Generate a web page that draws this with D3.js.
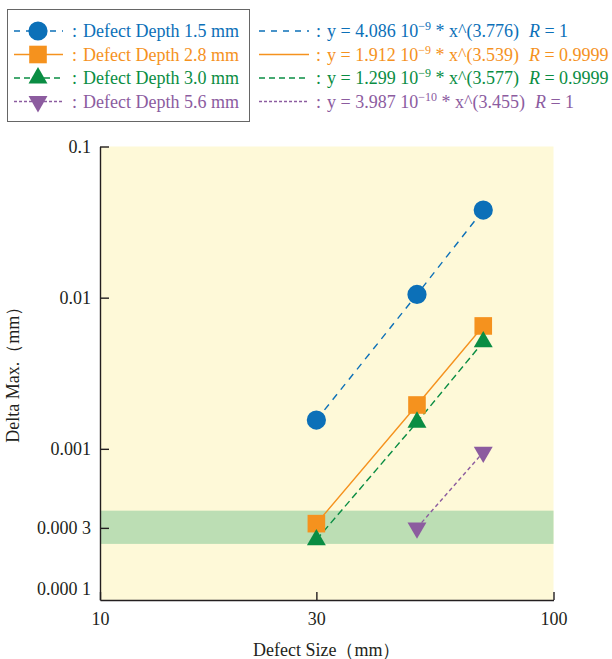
<!DOCTYPE html>
<html>
<head>
<meta charset="utf-8">
<script src="https://cdn.jsdelivr.net/npm/d3@7"></script>
<style>
  body { margin: 0; background: #fff; }
  text { font-family: "Liberation Serif", "DejaVu Serif", serif; }
</style>
</head>
<body>
<div id="chart"></div>
<script>
var width = 612,
    height = 659;

var margin = {left: 100, right: 58.5, top: 146.5, bottom: 59};

// data
var sizes = [30, 50, 70];
var depths = ["1.5", "2.8", "3.0", "5.6"];
var depth15 = [0.00155, 0.0105, 0.038];
var depth28 = [0.00032, 0.00195, 0.0065];
var depth30 = [0.00025, 0.0015, 0.0051];
var depth56 = [null, 0.0003, 0.00095];
var coefs = ["4.086", "1.912", "1.299", "3.987"];
var coefExp = ["\u22129", "\u22129", "\u22129", "\u221210"];
var powers = ["3.776", "3.539", "3.577", "3.455"];
var rValues = ["1", "0.9999", "0.9999", "1"];
var bandRange = [0.000235, 0.00039];
var xTicks = [10, 30, 100];
var yTicks = [0.1, 0.01, 0.001, 0.0003, 0.0001];
var yTickLabels = ["0.1", "0.01", "0.001", "0.000 3", "0.000 1"];

var colors = ["#0c70b8", "#f5921e", "#0a8d43", "#8c5c9f"];
var dashes = ["7,6", null, "7,4", "4,3"];
var legendDashes = ["6,6", null, "6,4", "3,2"];
var symbols = [d3.symbolCircle, d3.symbolSquare, d3.symbolTriangle, d3.symbolTriangle];
var symSizes = [290, 310, 155, 155];
var rotations = [0, 0, 0, 180];

var series = [depth15, depth28, depth30, depth56].map(function (vals, i) {
    return {
        name: depths[i],
        points: sizes.map(function (s, j) { return {x: s, y: vals[j]}; })
            .filter(function (p) { return p.y != null; })
    };
});

var x = d3.scaleLog().domain([10, 100]).range([margin.left, width - margin.right]);
var y = d3.scaleLog().domain([0.0001, 0.1]).range([height - margin.bottom, margin.top]);

var svg = d3.select("#chart").append("svg")
    .attr("width", width)
    .attr("height", height);

// plot background and band
svg.append("rect")
    .attr("x", x(10)).attr("y", y(0.1))
    .attr("width", x(100) - x(10)).attr("height", y(0.0001) - y(0.1))
    .style("fill", "#fef9d8");

svg.append("rect")
    .attr("x", x(10)).attr("y", y(bandRange[1]))
    .attr("width", x(100) - x(10)).attr("height", y(bandRange[0]) - y(bandRange[1]))
    .style("fill", "#bcdeb4");

// axes
var yAxis = svg.append("g")
    .attr("transform", "translate(" + x(10) + ",0)")
    .call(d3.axisLeft(y).tickValues(yTicks).tickSize(-9).tickSizeOuter(0).tickPadding(9)
        .tickFormat(function (d, i) { return yTickLabels[i]; }));

var xAxis = svg.append("g")
    .attr("transform", "translate(0," + y(0.0001) + ")")
    .call(d3.axisBottom(x).tickValues(xTicks).tickSize(-8).tickSizeOuter(0).tickPadding(12)
        .tickFormat(d3.format("d")));

[yAxis, xAxis].forEach(function (ax) {
    ax.select(".domain").style("stroke", "#231f20").style("stroke-width", 1.4);
    ax.selectAll(".tick line").style("stroke", "#231f20").style("stroke-width", 1.4);
    ax.selectAll(".tick text")
        .style("font-family", "Liberation Serif")
        .style("font-size", "18px")
        .style("fill", "#231f20");
});
// lift the lowest y label off the corner
yAxis.selectAll(".tick").filter(function (d) { return d === 0.0001; })
    .select("text").attr("dy", "-0.3em");
yAxis.selectAll(".tick").filter(function (d) { return d === 0.0001; })
    .select("line").remove();

// lines and markers
var line = d3.line()
    .x(function (d) { return x(d.x); })
    .y(function (d) { return y(d.y); });

series.forEach(function (s, i) {
    svg.append("path")
        .datum(s.points)
        .attr("d", line)
        .style("fill", "none")
        .style("stroke", colors[i])
        .style("stroke-width", 1.4)
        .style("stroke-dasharray", dashes[i]);
});

series.forEach(function (s, i) {
    svg.selectAll(".m" + i)
        .data(s.points)
        .enter().append("path")
        .attr("class", "m" + i)
        .attr("d", d3.symbol().type(symbols[i]).size(symSizes[i]))
        .attr("transform", function (d) {
            return "translate(" + x(d.x) + "," + y(d.y) + ") rotate(" + rotations[i] + ")";
        })
        .style("fill", colors[i]);
});

// axis titles
svg.append("text")
    .attr("x", (x(10) + x(100)) / 2)
    .attr("y", 656)
    .attr("text-anchor", "middle")
    .style("font-size", "18px")
    .style("fill", "#231f20")
    .text("Defect Size\uff08mm\uff09");

svg.append("text")
    .attr("transform", "translate(19," + ((y(0.1) + y(0.0001)) / 2 - 3) + ") rotate(-90)")
    .attr("text-anchor", "middle")
    .style("font-size", "18px")
    .style("fill", "#231f20")
    .text("Delta Max.\uff08mm\uff09");

// legend
svg.append("rect")
    .attr("x", 7.5).attr("y", 9.5)
    .attr("width", 242).attr("height", 112)
    .style("fill", "none")
    .style("stroke", "#666")
    .style("stroke-width", 1);

var rowY = [31, 54.5, 78, 101.5];

series.forEach(function (s, i) {
    var g = svg.append("g").attr("transform", "translate(0," + rowY[i] + ")");
    g.append("line")
        .attr("x1", 14).attr("x2", 63)
        .style("stroke", colors[i])
        .style("stroke-width", 1.4)
        .style("stroke-dasharray", legendDashes[i]);
    g.append("path")
        .attr("d", d3.symbol().type(symbols[i]).size(symSizes[i]))
        .attr("transform", "translate(38,0) rotate(" + rotations[i] + ")")
        .style("fill", colors[i]);
    g.append("text")
        .attr("x", 72).attr("y", 6)
        .style("font-size", "18px")
        .style("fill", colors[i])
        .text(":");
    g.append("text")
        .attr("x", 83).attr("y", 6)
        .style("font-size", "18px")
        .style("fill", colors[i])
        .text("Defect Depth " + s.name + " mm");

    g.append("line")
        .attr("x1", 259).attr("x2", 309)
        .style("stroke", colors[i])
        .style("stroke-width", 1.4)
        .style("stroke-dasharray", legendDashes[i]);
    g.append("text")
        .attr("x", 316).attr("y", 6)
        .style("font-size", "18px")
        .style("fill", colors[i])
        .text(":");
    var t = g.append("text")
        .attr("x", 327).attr("y", 6)
        .style("font-size", "18px")
        .style("fill", colors[i]);
    t.append("tspan").text("y = " + coefs[i] + " 10");
    t.append("tspan").attr("dy", -7).style("font-size", "12px").text(coefExp[i]);
    t.append("tspan").attr("dy", 7).text(" * x^(" + powers[i] + ")");
    t.append("tspan").attr("dx", 10).style("font-style", "italic").text("R");
    t.append("tspan").text(" = " + rValues[i]);
});
</script>
</body>
</html>
